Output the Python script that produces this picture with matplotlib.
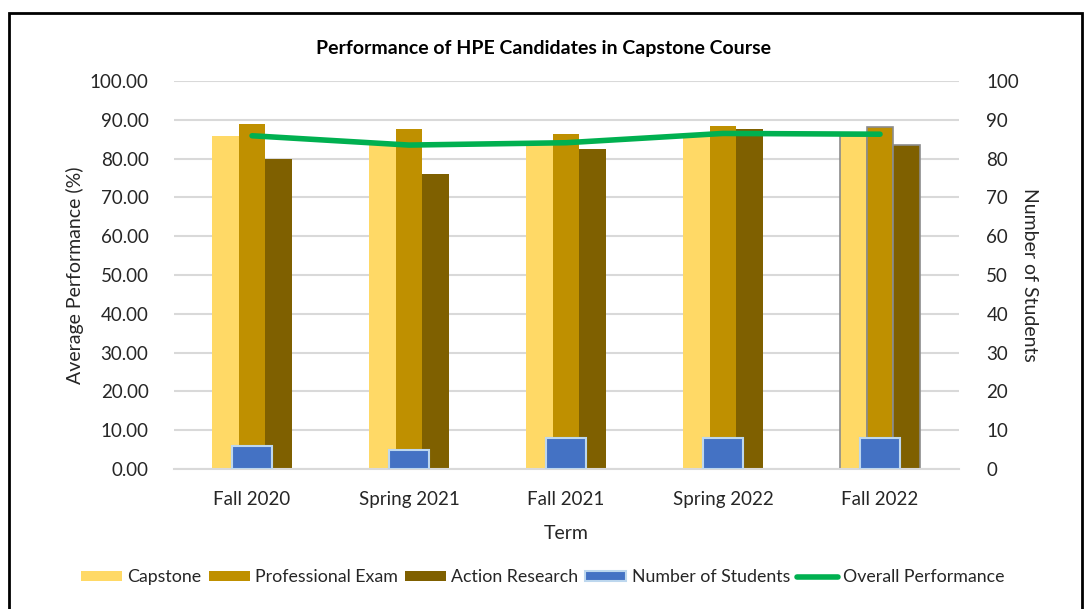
import numpy as np
import matplotlib
matplotlib.use("Agg")
import matplotlib.pyplot as plt
from matplotlib.patches import Rectangle

# =========================
# Data
# =========================
terms = ["Fall 2020", "Spring 2021", "Fall 2021", "Spring 2022", "Fall 2022"]
capstone = [85.8, 84.0, 84.2, 86.2, 85.8]
professional_exam = [88.9, 87.7, 86.3, 88.4, 88.2]
action_research = [79.8, 76.0, 82.5, 87.7, 83.5]
num_students = [6, 5, 8, 8, 8]
overall = [85.9, 83.5, 84.1, 86.5, 86.3]

C_CAP = "#FFD966"
C_PROF = "#BF9000"
C_ACT = "#7F6000"
C_STU = "#4472C4"
C_LINE = "#00B050"
TXT = "#262626"

plt.rcParams["font.family"] = ["Lato", "DejaVu Sans"]

fig = plt.figure(figsize=(10.86, 6.09), dpi=100)
ax = fig.add_axes([0.1598, 0.2299, 0.7228, 0.637])
ax2 = ax.twinx()

x = np.arange(len(terms))
w = 0.169
edges = ["none"] * 4 + ["#8C8C8C"]
ax.bar(x - w, capstone, w, color=C_CAP, edgecolor=edges, linewidth=1.2, label="Capstone", zorder=2)
ax.bar(x, professional_exam, w, color=C_PROF, edgecolor=edges, linewidth=1.2, label="Professional Exam", zorder=2)
ax.bar(x + w, action_research, w, color=C_ACT, edgecolor=edges, linewidth=1.2, label="Action Research", zorder=2)

ax2.bar(x, num_students, 0.255, color=C_STU, edgecolor="#BDD7EE", linewidth=1.5, label="Number of Students", zorder=2)
ax2.plot(x, overall, color=C_LINE, linewidth=4, solid_capstyle="round", label="Overall Performance", zorder=3)

ax.set_xlim(-0.5, len(terms) - 0.5)
ax.set_ylim(0, 100)
ax2.set_ylim(0, 100)
ax.set_yticks(np.arange(0, 101, 10))
ax.set_yticklabels([f"{v:.2f}" for v in np.arange(0, 101, 10)])
ax2.set_yticks(np.arange(0, 101, 10))
ax.yaxis.grid(True, color="#D9D9D9", linewidth=1.5, zorder=0)
ax.set_axisbelow(True)

for a in (ax, ax2):
    for s in a.spines.values():
        s.set_visible(False)
    a.tick_params(length=0, labelsize=13.5, colors=TXT)
ax.spines["bottom"].set_visible(True)
ax.spines["bottom"].set_color("#D9D9D9")
ax.spines["bottom"].set_linewidth(1.5)

ax.tick_params(axis="y", pad=18)
ax2.tick_params(axis="y", pad=20)
ax.set_xticks(x)
ax.set_xticklabels(terms)
ax.tick_params(axis="x", pad=16)

ax.set_xlabel("Term", fontsize=14, color=TXT, labelpad=12)
ax.set_ylabel("Average Performance (%)", fontsize=14, color=TXT, labelpad=4)
ax2.set_ylabel("Number of Students", fontsize=14, color=TXT, rotation=270, labelpad=14)

fig.text(0.5, 0.92, "Performance of HPE Candidates in Capstone Course",
         ha="center", va="center", fontsize=14, fontweight="bold", color="black")

h1, l1 = ax.get_legend_handles_labels()
h2, l2 = ax2.get_legend_handles_labels()
handles = h1 + [h2[l2.index("Number of Students")], h2[l2.index("Overall Performance")]]
labels = l1 + ["Number of Students", "Overall Performance"]
fig.legend(handles, labels, loc="center", bbox_to_anchor=(0.5, 0.052), ncol=5,
           frameon=False, fontsize=12.8, handlelength=2.3, handleheight=0.5,
           handletextpad=0.3, columnspacing=0.4, labelcolor=TXT)

# chart border
fig.patches.append(Rectangle((9 / 1086, -0.01), (1082 - 9) / 1086, 1 - 13 / 609 + 0.01,
                             transform=fig.transFigure, fill=False,
                             edgecolor="black", linewidth=2))

fig.savefig("out.png", dpi=100)
